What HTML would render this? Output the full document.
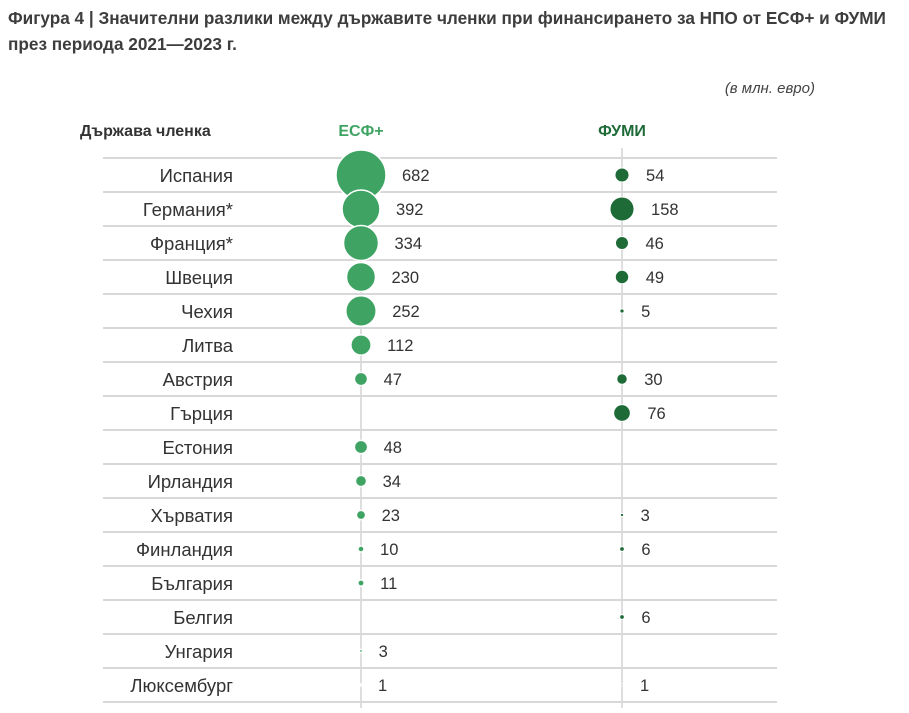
<!DOCTYPE html>
<html><head><meta charset="utf-8"><style>
body{margin:0;background:#fff;width:909px;height:708px;overflow:hidden;font-family:"Liberation Sans","DejaVu Sans",sans-serif}
</style></head><body>
<svg width="909" height="708" xmlns="http://www.w3.org/2000/svg" font-family="Liberation Sans, DejaVu Sans, sans-serif">
<text x="8" y="24" font-size="17.2" font-weight="bold" fill="#3d3d3d">Фигура 4 | Значителни разлики между държавите членки при финансирането за НПО от ЕСФ+ и ФУМИ</text>
<text x="8" y="50" font-size="17.2" font-weight="bold" fill="#3d3d3d">през периода 2021—2023 г.</text>
<text x="815" y="93" font-size="15" font-style="italic" fill="#444" text-anchor="end">(в млн. евро)</text>
<text x="80" y="136" font-size="16" font-weight="bold" fill="#333">Държава членка</text>
<text x="361" y="136" font-size="16" font-weight="bold" fill="#3fa463" text-anchor="middle">ЕСФ+</text>
<text x="622" y="136" font-size="16" font-weight="bold" fill="#1e6b38" text-anchor="middle">ФУМИ</text>
<line x1="361" y1="150" x2="361" y2="708" stroke="#d4d4d4" stroke-width="1.5"/>
<line x1="622" y1="148" x2="622" y2="708" stroke="#d4d4d4" stroke-width="1.5"/>
<g id="rows"></g>
</svg>
<script>
var d=[["Испания",682,54],["Германия*",392,158],["Франция*",334,46],["Швеция",230,49],["Чехия",252,5],["Литва",112,null],["Австрия",47,30],["Гърция",null,76],["Естония",48,null],["Ирландия",34,null],["Хърватия",23,3],["Финландия",10,6],["България",11,null],["Белгия",null,6],["Унгария",3,null],["Люксембург",1,1]];
var g=document.getElementById("rows"),h="";
for(var i=0;i<=16;i++){var y=158+i*34;h+='<line x1="103" y1="'+y+'" x2="777" y2="'+y+'" stroke="#d8d8d8" stroke-width="2"/>';}
function r(v){return 25*Math.sqrt(v/682);}
d.forEach(function(e,i){var y=175+i*34;
h+='<text x="233" y="'+(y+7)+'" font-size="18.5" fill="#333" text-anchor="end">'+e[0]+'</text>';
if(e[1]!=null){var a=r(e[1]);h+='<circle cx="361" cy="'+y+'" r="'+a+'" fill="#3fa463" stroke="#fff" stroke-width="1.5"/><text x="'+(361+a+16)+'" y="'+(y+6)+'" font-size="16.5" fill="#333">'+e[1]+'</text>';}
if(e[2]!=null){var b=r(e[2]);h+='<circle cx="622" cy="'+y+'" r="'+b+'" fill="#1e6b38" stroke="#fff" stroke-width="1"/><text x="'+(622+b+17)+'" y="'+(y+6)+'" font-size="16.5" fill="#333">'+e[2]+'</text>';}
});
g.innerHTML=h;
</script>
</body></html>
